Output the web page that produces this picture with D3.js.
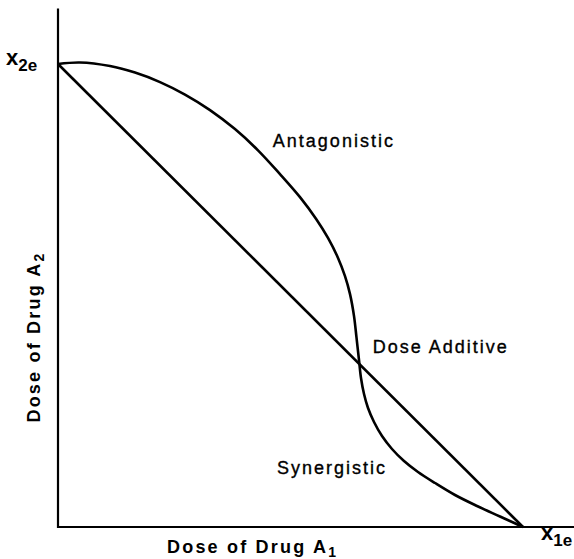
<!DOCTYPE html>
<html>
<head>
<meta charset="utf-8">
<script src="https://cdn.jsdelivr.net/npm/d3@7"></script>
<style>
  html, body { margin: 0; padding: 0; background: #fff; }
  svg { display: block; }
  text { font-family: "Liberation Sans", Arial, Helvetica, sans-serif; fill: #000; }
</style>
</head>
<body>
<svg id="chart" width="574" height="559"></svg>
<script>
// Isobologram: doses of drug A1 (x) and A2 (y) that together give the same effect.
// Doses are in units of each drug's single-agent effective dose (x1e = 1, x2e = 1).
const additiveLine = [[0, 1], [1, 0]];

// Observed isobole: bows outward (antagonism) at high A2, inward (synergy) at high A1.
const isoboleX = [0, 0.0473, 0.1118, 0.1656, 0.2194, 0.2731, 0.3269, 0.3806, 0.4301, 0.4774,
                  0.5204, 0.5548, 0.5806, 0.6022, 0.6172, 0.6280, 0.6366, 0.6419, 0.6473,
                  0.6516, 0.6581, 0.6667, 0.6796, 0.6968, 0.7183, 0.7441, 0.7742, 0.8108,
                  0.8538, 0.9011, 0.9505, 1];
const isoboleY = [1, 1.0032, 0.9955, 0.9814, 0.9609, 0.9339, 0.9004, 0.8594, 0.8136, 0.7622,
                  0.7125, 0.6659, 0.6244, 0.5812, 0.5419, 0.5030, 0.4555, 0.4095, 0.3607,
                  0.3218, 0.2873, 0.2570, 0.2268, 0.1965, 0.1685, 0.1425, 0.1188, 0.0950,
                  0.0691, 0.0454, 0.0227, 0];

const regionLabels = ["Antagonistic", "Dose Additive", "Synergistic"];
const regionLabelX = [0.462, 0.677, 0.471];
const regionLabelY = [0.820, 0.375, 0.114];

const svg = d3.select("#chart");
const x = d3.scaleLinear().domain([0, 1]).range([58, 523]);
const y = d3.scaleLinear().domain([0, 1]).range([527, 64]);
const xMax = 1.113, yMax = 1.12;

// Axes: plain L-shaped frame, no ticks
svg.append("path")
  .attr("d", d3.line()([[x(0), y(yMax)], [x(0), y(0)], [x(xMax), y(0)]]))
  .attr("fill", "none").attr("stroke", "#000").attr("stroke-width", 2.2);

const line = d3.line().x(d => x(d[0])).y(d => y(d[1]));

svg.append("path")
  .attr("d", line(additiveLine))
  .attr("fill", "none").attr("stroke", "#000").attr("stroke-width", 2.6);

const isobole = isoboleX.map((v, i) => [v, isoboleY[i]]);
svg.append("path")
  .attr("d", d3.line().x(d => x(d[0])).y(d => y(d[1])).curve(d3.curveCatmullRom.alpha(0.5))(isobole))
  .attr("fill", "none").attr("stroke", "#000").attr("stroke-width", 2.6)
  .attr("stroke-linejoin", "round");

// Region labels
svg.selectAll("text.region").data(regionLabels).join("text")
  .attr("class", "region")
  .attr("x", (d, i) => x(regionLabelX[i]))
  .attr("y", (d, i) => y(regionLabelY[i]))
  .attr("font-size", 18).attr("letter-spacing", 2)
  .attr("stroke", "#000").attr("stroke-width", 0.35)
  .text(d => d);

// Effective-dose markers on each axis
function subLabel(xp, yp, main, sub) {
  const t = svg.append("text").attr("x", xp).attr("y", yp)
    .attr("font-size", 22).attr("font-weight", "bold");
  t.append("tspan").text(main);
  t.append("tspan").attr("dy", 6).attr("font-size", 17).text(sub);
  return t;
}
subLabel(6, y(1) + 1, "x", "2e");
subLabel(541, y(0) + 13, "x", "1e");

// Axis titles
const xt = svg.append("text").attr("x", 167).attr("y", 553)
  .attr("font-size", 18).attr("font-weight", "bold").attr("letter-spacing", 2.2);
xt.append("tspan").text("Dose of Drug A");
xt.append("tspan").attr("dy", 4).attr("font-size", 14).text("1");

const yt = svg.append("text")
  .attr("transform", "translate(40," + 337 + ") rotate(-90)")
  .attr("text-anchor", "middle")
  .attr("font-size", 18).attr("font-weight", "bold").attr("letter-spacing", 2.2);
yt.append("tspan").text("Dose of Drug A");
yt.append("tspan").attr("dy", 4).attr("font-size", 14).text("2");
</script>
</body>
</html>
